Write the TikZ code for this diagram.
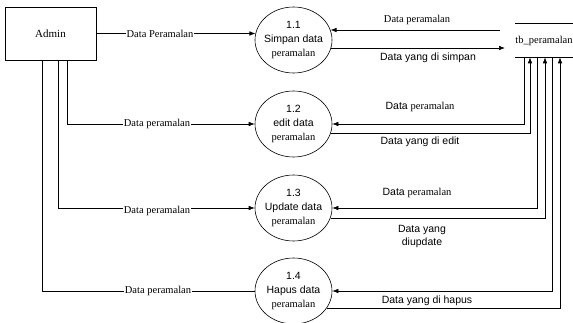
\documentclass[tikz,border=0pt]{standalone}
\usepackage{fontspec}
\setmainfont{Liberation Serif}
\setsansfont{Liberation Sans}
\usetikzlibrary{shapes.geometric,arrows.meta,positioning}

\begin{document}
\begin{tikzpicture}[x=1pt,y=-1pt,line width=0.6pt,
  flow/.style={-{Latex[length=6pt,width=4.5pt]}},
  proc/.style={draw,ellipse,minimum width=77pt,minimum height=66pt,inner sep=-4pt,
    align=center,font=\sffamily\fontsize{10.5}{14}\selectfont},
  lbl/.style={font=\fontsize{10.5}{12}\selectfont,inner sep=1pt},
  slbl/.style={font=\sffamily\fontsize{10.5}{13}\selectfont,inner sep=1pt}]
\useasboundingbox (0,0) rectangle (573,323);
\node[draw,minimum width=91pt,minimum height=53pt,font=\fontsize{11}{13}\selectfont] (admin) at (50.5,33.5) {Admin};
\node[proc] (p1) at (293.5,40) {1.1\\Simpan data\\{\rmfamily peramalan}};
\node[proc] (p2) at (293.5,124) {1.2\\edit data\\{\rmfamily peramalan}};
\node[proc] (p3) at (293.5,208) {1.3\\Update data\\{\rmfamily peramalan}};
\node[proc] (p4) at (293.5,291) {1.4\\Hapus data\\{\rmfamily peramalan}};
\node[minimum width=58pt,minimum height=33pt,inner sep=0pt,font=\fontsize{10.5}{12}\selectfont] (store) at (544,40.5) {tb\_peramalan};
\draw (store.north west) -- (store.north east);
\draw (store.south west) -- (store.south east);

\draw[flow] (admin.east) -- (admin.east -| p1.170);
\draw[flow] ([xshift=16.5pt]admin.south) |- (p2.west);
\draw[flow] ([xshift=7.5pt]admin.south) |- (p3.west);
\draw ([xshift=-8.5pt]admin.south) |- (p4.west);
\node[lbl,fill=white] (l1) at (160,33.5) {Data Peramalan};
\node[lbl,fill=white] (l2) at (157,124) {Data peramalan};
\node[lbl,fill=white] (l3) at (157,211) {Data peramalan};
\node[lbl,fill=white] (l4) at (158,291) {Data peramalan};

\coordinate (s1in) at (500,30);
\coordinate (s1out) at (505,48);
\draw[flow] (s1in) -- (s1in -| p1.15);
\draw[flow] (p1.-12) -- (p1.-12 -| s1out);
\draw[flow] ([xshift=-20pt]store.south) |- (p2.east);
\draw[flow] (p2.-14) -| ([xshift=-14pt]store.south);
\draw[flow] ([xshift=-7pt]store.south) |- (p3.east);
\draw[flow] (p3.-15) -| ([xshift=1pt]store.south);
\draw[flow] ([xshift=8pt]store.south) |- (p4.east);
\draw[flow] (p4.-27) -| ([xshift=16pt]store.south);
\node[lbl] (r1a) at (417,20) {Data peramalan};
\node[slbl] (r1b) at (428,58) {Data yang di simpan};
\node[slbl] (r2a) at (420,107) {Data {\rmfamily peramalan}};
\node[slbl] (r2b) at (420,142) {Data yang di edit};
\node[slbl] (r3a) at (417,193) {Data {\rmfamily peramalan}};
\node[slbl,align=center] (r3b) at (422,236.5) {Data yang\\diupdate};
\node[slbl] (r4b) at (427,301) {Data yang di hapus};
\end{tikzpicture}
\end{document}
